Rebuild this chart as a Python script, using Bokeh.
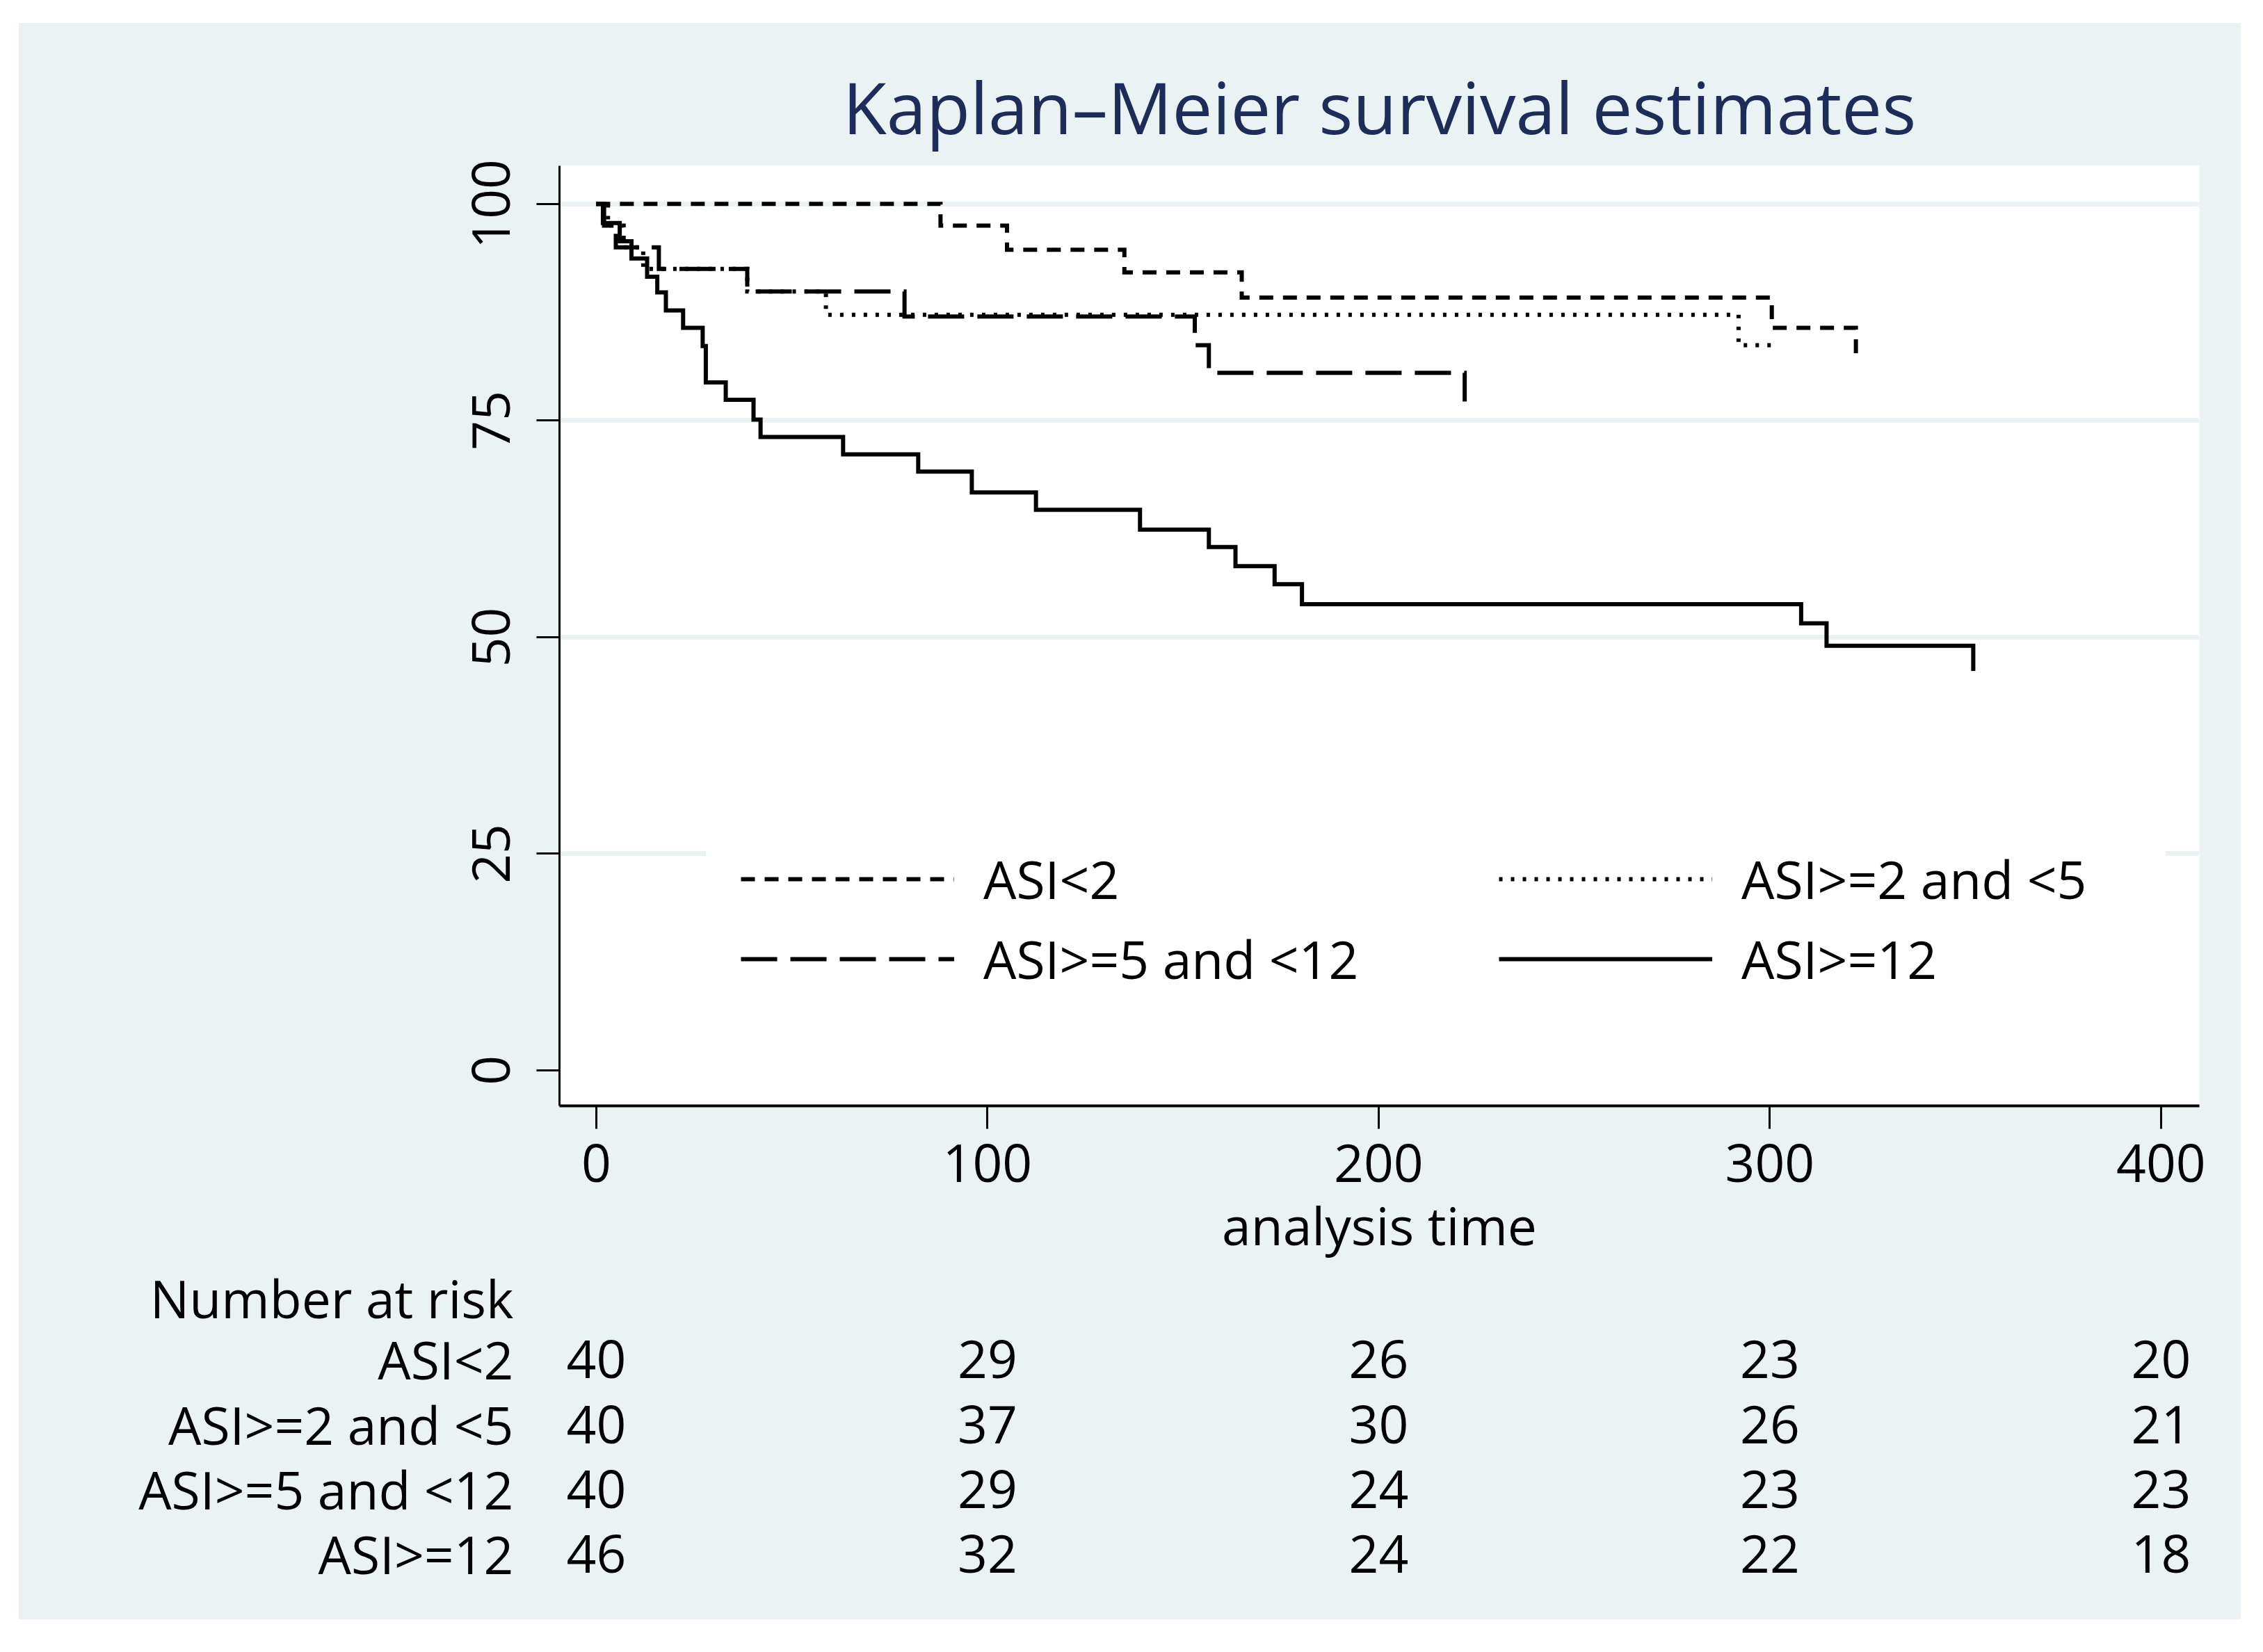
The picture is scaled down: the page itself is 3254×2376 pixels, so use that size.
from bokeh.plotting import figure
from bokeh.layouts import column
from bokeh.models import Range1d, FixedTicker, Legend, LegendItem, FactorRange
from bokeh.core.properties import value
from bokeh.embed import file_html
from bokeh.resources import INLINE

FONT = "Open Sans"
BG = "#eaf2f3"
TITLE_COLOR = "#1d2c58"

# ---------------- data ----------------
time_ticks = [0, 100, 200, 300, 400]
surv_ticks = [0, 25, 50, 75, 100]
grid_ticks = [25, 50, 75, 100]

groups = ["ASI<2", "ASI>=2 and <5", "ASI>=5 and <12", "ASI>=12"]

t_asi_lt2 = [0, 88, 105, 135, 165, 300.5, 322]
s_asi_lt2 = [100, 97.5, 94.7, 92.1, 89.2, 85.7, 82.1]

t_asi_2_5 = [0, 3, 7, 12, 38.6, 58.7, 292, 301]
s_asi_2_5 = [100, 97.5, 95.0, 92.5, 89.9, 87.2, 83.7, 83.7]

t_asi_5_12 = [0, 2, 5, 16, 38.6, 78.8, 153, 156.6, 222]
s_asi_5_12 = [100, 97.5, 95.0, 92.5, 89.9, 87.0, 83.7, 80.5, 77.2]

t_asi_ge12 = [0, 1.7, 6, 9, 13, 15.6, 17.8, 22.2, 27.2, 28, 33.1, 40.2, 42,
              63.1, 82.3, 96, 112.4, 139, 156.6, 163.4, 173.4, 180.4, 308, 314.5, 352]
s_asi_ge12 = [100, 97.8, 95.7, 93.7, 91.6, 89.8, 87.7, 85.7, 83.6, 79.4, 77.4, 75.1, 73.1,
              71.1, 69.1, 66.7, 64.7, 62.4, 60.4, 58.2, 56.1, 53.8, 51.6, 49.0, 46.1]

risk_asi_lt2 = [40, 29, 26, 23, 20]
risk_asi_2_5 = [40, 37, 30, 26, 21]
risk_asi_5_12 = [40, 29, 24, 23, 23]
risk_asi_ge12 = [46, 32, 24, 22, 18]

title_text = "Kaplan\u2013Meier survival estimates"
x_label = "analysis time"
risk_title = "Number at risk"

# ---------------- layout constants (pixels) ----------------
W = 3195
BORDER_L, BORDER_R = 777, 60
TOP_H = 1782
BORDER_T, BORDER_B = 205, 223
BOT_H = 514

# ---------------- main KM figure ----------------
p = figure(width=W, height=TOP_H,
           x_range=Range1d(-9.4, 409.8), y_range=Range1d(-4.1, 104.4),
           output_backend="svg", toolbar_location=None,
           min_border_left=BORDER_L, min_border_right=BORDER_R,
           min_border_top=BORDER_T, min_border_bottom=BORDER_B,
           background_fill_color="white", border_fill_color=BG,
           outline_line_color=None)

p.title.text = title_text
p.title.text_font = FONT
p.title.text_font_size = "103px"
p.title.text_font_style = "normal"
p.title.text_color = TITLE_COLOR
p.title.align = "center"
p.title.offset = 52
p.title.standoff = 31

xa = p.xaxis[0]
xa.ticker = FixedTicker(ticks=time_ticks)
xa.axis_label = x_label
xa.axis_label_text_font = FONT
xa.axis_label_text_font_size = "75px"
xa.axis_label_text_font_style = "normal"
xa.axis_label_text_color = "black"
xa.axis_label_standoff = 8
xa.major_label_text_font = FONT
xa.major_label_text_font_size = "75px"
xa.major_label_text_color = "black"
xa.major_label_standoff = 22
xa.major_tick_out = 33
xa.major_tick_in = 0
xa.minor_tick_out = 0
xa.minor_tick_in = 0
xa.major_tick_line_width = 3
xa.axis_line_width = 4
xa.axis_line_color = "black"

ya = p.yaxis[0]
ya.ticker = FixedTicker(ticks=surv_ticks)
ya.major_label_orientation = "vertical"
ya.major_label_text_font = FONT
ya.major_label_text_font_size = "75px"
ya.major_label_text_color = "black"
ya.major_label_standoff = 38
ya.major_tick_out = 33
ya.major_tick_in = 0
ya.minor_tick_out = 0
ya.minor_tick_in = 0
ya.major_tick_line_width = 3
ya.axis_line_width = 3
ya.axis_line_color = "black"

p.xgrid.visible = False
p.ygrid[0].ticker = FixedTicker(ticks=grid_ticks)
p.ygrid.grid_line_color = BG
p.ygrid.grid_line_width = 7

common = dict(mode="after", line_color="black", line_width=6, line_join="miter")
r_lt2 = p.step(t_asi_lt2, s_asi_lt2, line_dash="20 14", **common)
r_2_5 = p.step(t_asi_2_5, s_asi_2_5, line_dash="5 12", **common)
r_5_12 = p.step(t_asi_5_12, s_asi_5_12, line_dash="52 19", **common)
r_ge12 = p.step(t_asi_ge12, s_asi_ge12, **common)

leg_style = dict(orientation="vertical", padding=49, spacing=13, margin=0,
                 glyph_width=307, glyph_height=40, label_standoff=42, label_height=102,
                 label_text_font=FONT, label_text_font_size="75px", label_text_color="black",
                 background_fill_color="white", background_fill_alpha=1.0,
                 border_line_color="white", border_line_width=1)
leg1 = Legend(items=[LegendItem(label=groups[0], renderers=[r_lt2]),
                     LegendItem(label=groups[2], renderers=[r_5_12])],
              location=(211, 110), label_width=643, **leg_style)
leg2 = Legend(items=[LegendItem(label=groups[1], renderers=[r_2_5]),
                     LegendItem(label=groups[3], renderers=[r_ge12])],
              location=(1301, 110), label_width=560, **leg_style)
p.add_layout(leg1, "center")
p.add_layout(leg2, "center")

# ---------------- number-at-risk table ----------------
row_factors = [risk_title] + groups
q = figure(width=W, height=BOT_H,
           x_range=p.x_range,
           y_range=FactorRange(factors=list(reversed(row_factors)), range_padding=0),
           output_backend="svg", toolbar_location=None,
           min_border_left=BORDER_L, min_border_right=BORDER_R,
           min_border_top=0, min_border_bottom=48,
           background_fill_color=BG, border_fill_color=BG, outline_line_color=None)
q.xaxis.visible = False
q.xgrid.visible = False
q.ygrid.visible = False

qa = q.yaxis[0]
qa.axis_line_color = None
qa.major_tick_line_color = None
qa.minor_tick_line_color = None
qa.major_tick_out = 0
qa.major_tick_in = 0
qa.major_label_standoff = 66
qa.major_label_text_font = FONT
qa.major_label_text_font_size = "75px"
qa.major_label_text_color = "black"

risk_rows = [risk_asi_lt2, risk_asi_2_5, risk_asi_5_12, risk_asi_ge12]
num_x, num_y, num_t = [], [], []
for g, row in zip(groups, risk_rows):
    for t, n in zip(time_ticks, row):
        num_x.append(t)
        num_y.append(g)
        num_t.append(str(n))
q.text(x=num_x, y=num_y, text=num_t, text_align="center", text_baseline="middle",
       text_font=value(FONT), text_font_size=value("75px"), text_color="black")

layout = column(p, q, spacing=0)
layout.margin = (33, 0, 0, 27)
layout.styles = {"background-color": BG}

open("out.html", "w").write(file_html(layout, INLINE))
